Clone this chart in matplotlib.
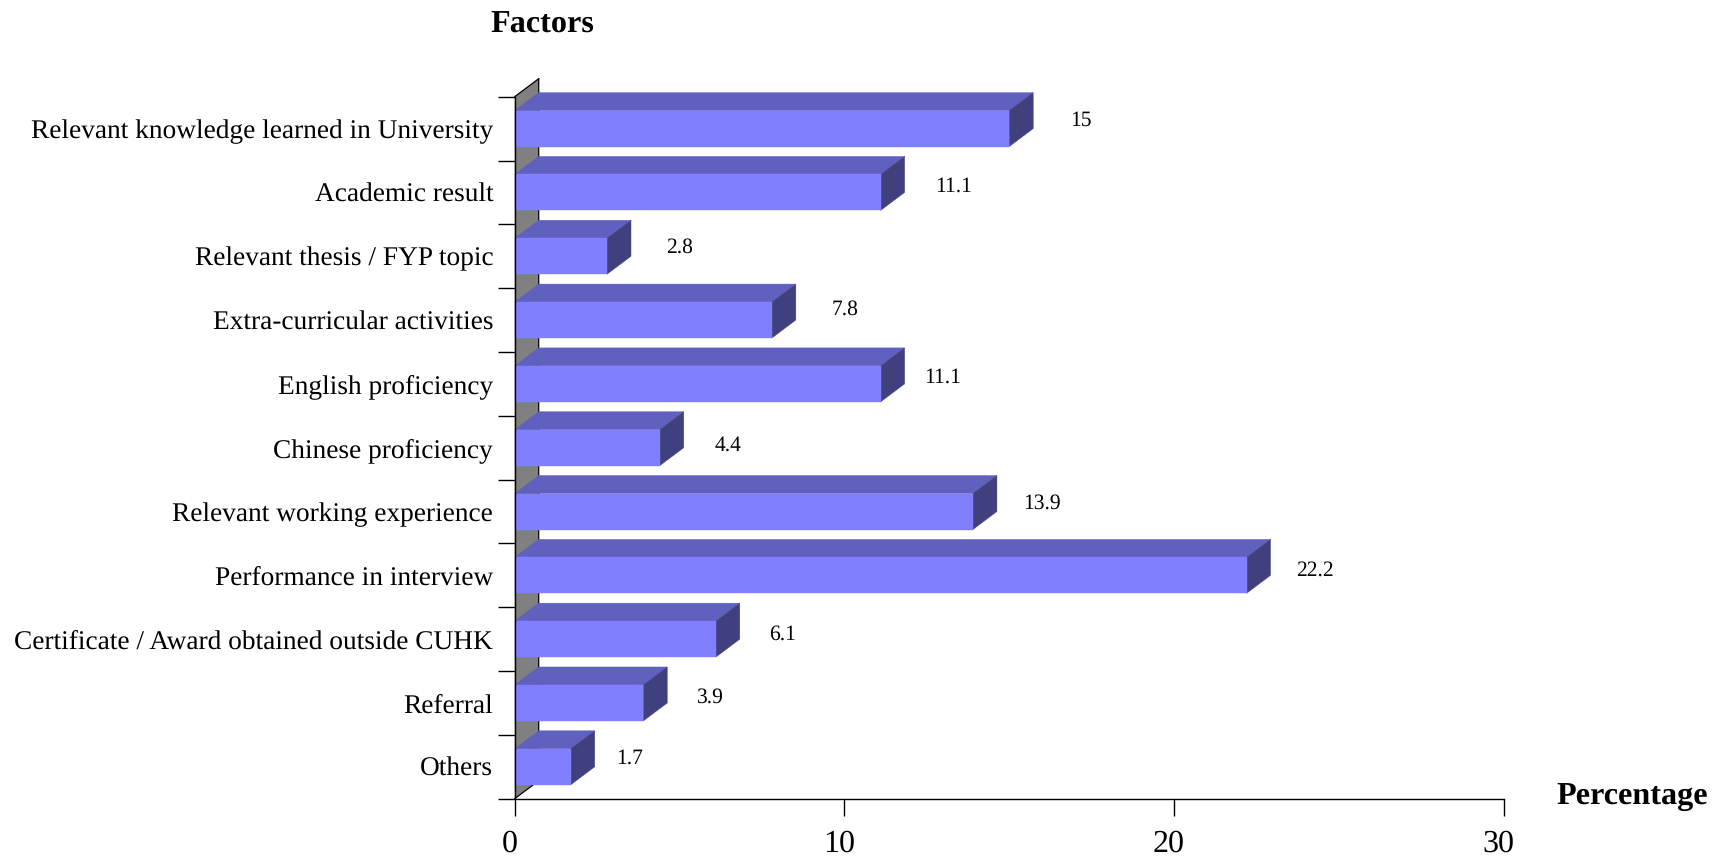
import matplotlib.pyplot as plt
from matplotlib.patches import Polygon
from matplotlib.transforms import ScaledTranslation

plt.rcParams["font.family"] = ["Liberation Serif", "DejaVu Serif"]
plt.rcParams["text.hinting"] = "none"

factors = [
    "Relevant knowledge learned in University",
    "Academic result",
    "Relevant thesis / FYP topic",
    "Extra-curricular activities",
    "English proficiency",
    "Chinese proficiency",
    "Relevant working experience",
    "Performance in interview",
    "Certificate / Award obtained outside CUHK",
    "Referral",
    "Others",
]
percentages = [15, 11.1, 2.8, 7.8, 11.1, 4.4, 13.9, 22.2, 6.1, 3.9, 1.7]
value_labels = ["15", "11.1", "2.8", "7.8", "11.1", "4.4", "13.9", "22.2", "6.1", "3.9", "1.7"]
x_ticks = [0, 10, 20, 30]

# label offsets from the bar end, in pixels (the original places them unevenly)
label_dx = [72, 73, 72, 73, 62, 68, 69, 68, 67, 67, 59]
label_dy = [8, 6, 9, 11, 6, 2, 8, 5, 4.5, 6, 8.6]

W, H = 1725, 860
DPI = 100
PX = 72 / DPI

FRONT = "#8080ff"
TOP = "#6060bf"
SIDE = "#40407f"
WALL = "#808080"

fig = plt.figure(figsize=(W / DPI, H / DPI), dpi=DPI)
left, right, top, bottom = 514.7, 1503.7, 96.7, 798.7
ax = fig.add_axes([left / W, 1 - bottom / H, (right - left) / W, (bottom - top) / H])
ax.set_xlim(0, 30)
ax.set_ylim(len(factors), 0)

# 3d depth in data units
depth_x = 24 / ((right - left) / 30)
depth_y = 18 / ((bottom - top) / len(factors))
bar_h = 36 / ((bottom - top) / len(factors))

n = len(factors)
ax.add_patch(Polygon([(0, n), (depth_x, n - depth_y), (depth_x, -depth_y), (0, 0)],
                     closed=True, fc=WALL, ec="none", zorder=1, clip_on=False))
ax.plot([0, depth_x, depth_x], [n, n - depth_y, -depth_y], color="black", lw=0.9, zorder=1.5,
        clip_on=False, solid_joinstyle="miter")
ax.plot([0, depth_x], [0, -depth_y], color="black", lw=0.9, zorder=1.5, clip_on=False)

for i, val in enumerate(percentages):
    y0 = i + 0.5 - bar_h / 2
    y1 = i + 0.5 + bar_h / 2
    ax.add_patch(Polygon([(0, y0), (depth_x, y0 - depth_y), (val + depth_x, y0 - depth_y), (val, y0)],
                         closed=True, fc=TOP, ec=TOP, lw=0.3, zorder=2, clip_on=False))
    ax.add_patch(Polygon([(val, y0), (val + depth_x, y0 - depth_y), (val + depth_x, y1 - depth_y), (val, y1)],
                         closed=True, fc=SIDE, ec=SIDE, lw=0.3, zorder=2, clip_on=False))
    ax.add_patch(Polygon([(0, y0), (val, y0), (val, y1), (0, y1)],
                         closed=True, fc=FRONT, ec=FRONT, lw=0.3, zorder=3, clip_on=False))
    ax.annotate(value_labels[i], (val, i + 0.5), xytext=(label_dx[i] * PX, label_dy[i] * PX),
                textcoords="offset points", ha="center", va="center", fontsize=15.5)

ax.spines["top"].set_visible(False)
ax.spines["right"].set_visible(False)
for s in ["left", "bottom"]:
    ax.spines[s].set_linewidth(1.0)
    ax.spines[s].set_zorder(4)

ax.set_xticks(x_ticks)
ax.set_xticklabels([str(t) for t in x_ticks], fontsize=23)
ax.tick_params(axis="x", length=17 * PX, width=1.0, pad=10)
shift = ScaledTranslation(-5 * PX / 72, 0, fig.dpi_scale_trans)
for lab in ax.get_xticklabels():
    lab.set_transform(lab.get_transform() + shift)

ax.set_yticks([i + 0.5 for i in range(n)])
ax.set_yticklabels(factors, fontsize=19.75)
ax.tick_params(axis="y", which="major", length=0, pad=15.5)
ax.set_yticks(range(n + 1), minor=True)
ax.tick_params(axis="y", which="minor", length=17 * PX, width=1.0)

fig.text(542 / W, 1 - 25 / H, "Factors", ha="center", va="center", fontsize=23.2, fontweight="bold")
fig.text(1632 / W, 1 - 797 / H, "Percentage", ha="center", va="center", fontsize=23.2, fontweight="bold")

fig.savefig("out.png", dpi=DPI)
